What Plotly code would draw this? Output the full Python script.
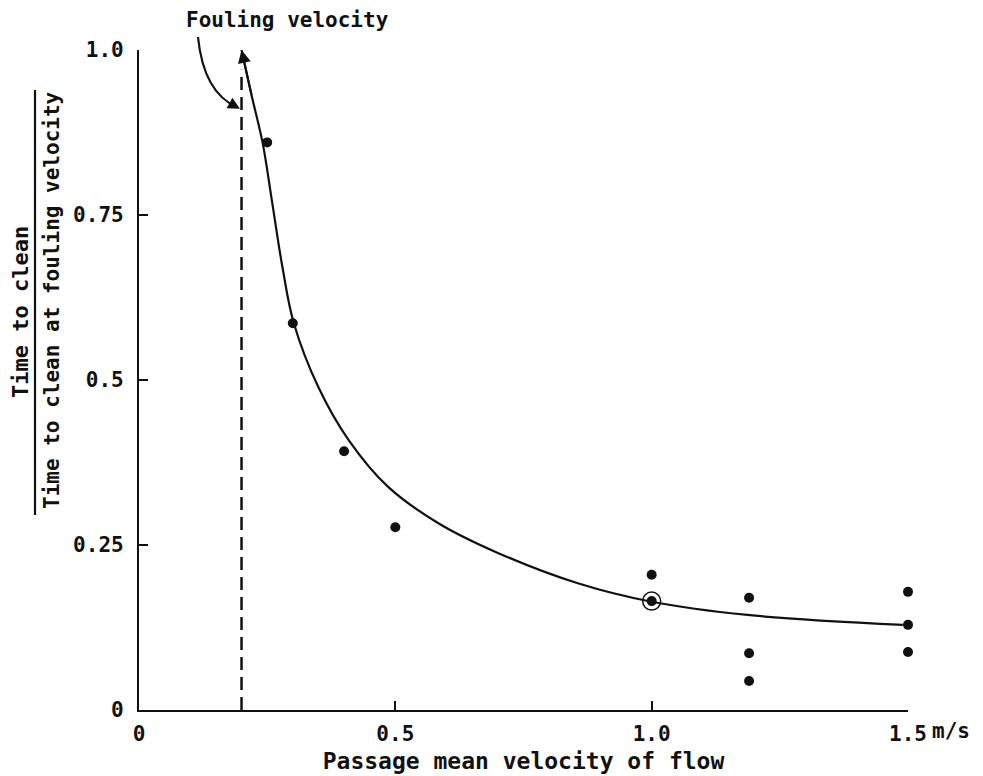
import plotly.graph_objects as go

# ---- data ----
fouling_velocity = 0.2
dash_top = 0.97

curve_x = [0.2, 0.22, 0.241, 0.259, 0.28, 0.302, 0.35, 0.409, 0.486, 0.584, 0.7, 0.856, 1.0, 1.187, 1.49]
curve_y = [1.0, 0.93, 0.86, 0.773, 0.67, 0.586, 0.489, 0.409, 0.338, 0.283, 0.238, 0.192, 0.164, 0.144, 0.129]

point_x = [0.25, 0.3, 0.4, 0.5, 1.0, 1.0, 1.19, 1.19, 1.19, 1.5, 1.5, 1.5]
point_y = [0.86, 0.586, 0.392, 0.277, 0.205, 0.165, 0.17, 0.086, 0.044, 0.179, 0.129, 0.088]

circled_x = [1.0]
circled_y = [0.165]

x_tickvals = [0, 0.5, 1.0, 1.5]
x_ticktext = ["0", "0.5", "1.0", "1.5"]
y_tickvals = [0, 0.25, 0.5, 0.75, 1.0]
y_ticktext = ["0", "0.25", "0.5", "0.75", "1.0"]

FONT = "DejaVu Sans Mono"
INK = "#111111"
W = "bold"

fig = go.Figure()

# dashed fouling-velocity line
fig.add_trace(go.Scatter(
    x=[fouling_velocity, fouling_velocity], y=[0, dash_top], mode="lines",
    line=dict(color=INK, width=2.5, dash="13px,7px"), cliponaxis=False,
    showlegend=False, hoverinfo="skip"))

# fitted curve
fig.add_trace(go.Scatter(
    x=curve_x, y=curve_y, mode="lines",
    line=dict(color=INK, width=2.2, shape="spline", smoothing=1.0),
    cliponaxis=False, showlegend=False, hoverinfo="skip"))

# measured points
fig.add_trace(go.Scatter(
    x=point_x, y=point_y, mode="markers",
    marker=dict(color=INK, size=10, line=dict(width=0)),
    cliponaxis=False, showlegend=False))

# ring around circled point
fig.add_trace(go.Scatter(
    x=circled_x, y=circled_y, mode="markers",
    marker=dict(symbol="circle-open", color=INK, size=18, line=dict(width=1.5, color=INK)),
    cliponaxis=False, showlegend=False))

# arrowhead at top of curve
fig.add_annotation(x=curve_x[0], y=curve_y[0], xref="x", yref="y",
                   ax=curve_x[1], ay=curve_y[1], axref="x", ayref="y",
                   text="", showarrow=True, arrowhead=2, arrowsize=1.3,
                   arrowwidth=2, arrowcolor=INK)

# "Fouling velocity" label and curved arrow
fig.add_annotation(x=(287 - 139) / 769, y=(710 - 20) / 660, xref="paper", yref="paper",
                   xanchor="center", yanchor="middle",
                   text="Fouling velocity", showarrow=False,
                   font=dict(family=FONT, size=21, color=INK, weight=W))
fig.add_shape(type="path", xref="paper", yref="paper",
              path="M 0.0767 1.0197 Q 0.084 0.935 0.128 0.913",
              line=dict(color=INK, width=2.2))
fig.add_annotation(x=0.1313, y=0.911, xref="paper", yref="paper",
                   ax=-9, ay=-5, text="", showarrow=True, arrowhead=2,
                   arrowsize=1.2, arrowwidth=2, arrowcolor=INK)

# y-axis title as a fraction
fig.add_annotation(x=(20 - 139) / 769, y=(710 - 312) / 660, xref="paper", yref="paper",
                   xanchor="center", yanchor="middle",
                   text="Time to clean", textangle=-90, showarrow=False,
                   font=dict(family=FONT, size=22, color=INK, weight=W))
fig.add_shape(type="line", xref="paper", yref="paper",
              x0=(35 - 139) / 769, x1=(35 - 139) / 769,
              y0=(710 - 90) / 660, y1=(710 - 515) / 660,
              line=dict(color=INK, width=2.2))
fig.add_annotation(x=(52 - 139) / 769, y=(710 - 300) / 660, xref="paper", yref="paper",
                   xanchor="center", yanchor="middle",
                   text="Time to clean at fouling velocity", textangle=-90, showarrow=False,
                   font=dict(family=FONT, size=21, color=INK, weight=W))

# unit after last x tick
fig.add_annotation(x=(930 - 139) / 769, y=(710 - 731) / 660, xref="paper", yref="paper",
                   text="m/s", xanchor="left", yanchor="middle", showarrow=False,
                   font=dict(family=FONT, size=21, color=INK, weight=W))

fig.update_layout(
    width=983, height=776,
    margin=dict(l=139, r=75, t=50, b=66, autoexpand=False),
    paper_bgcolor="white", plot_bgcolor="white",
    font=dict(family=FONT, size=21, color=INK, weight=W),
    xaxis=dict(range=[0, 1.5], tickvals=x_tickvals, ticktext=x_ticktext,
               automargin=False,
               showgrid=False, zeroline=False, showline=True, linecolor=INK, linewidth=2.2,
               ticks="inside", ticklen=9, tickwidth=2, tickcolor=INK,
               ticklabelstandoff=4,
               tickfont=dict(family=FONT, size=21, color=INK, weight=W),
               title=dict(text="Passage mean velocity of flow", standoff=8,
                          font=dict(family=FONT, size=23, color=INK, weight=W))),
    yaxis=dict(range=[0, 1.0], tickvals=y_tickvals, ticktext=y_ticktext,
               automargin=False,
               showgrid=False, zeroline=False, showline=True, linecolor=INK, linewidth=2.2,
               ticks="inside", ticklen=9, tickwidth=2, tickcolor=INK,
               tickfont=dict(family=FONT, size=21, color=INK, weight=W),
               ticklabelstandoff=9),
)

fig.write_html("out.html")
